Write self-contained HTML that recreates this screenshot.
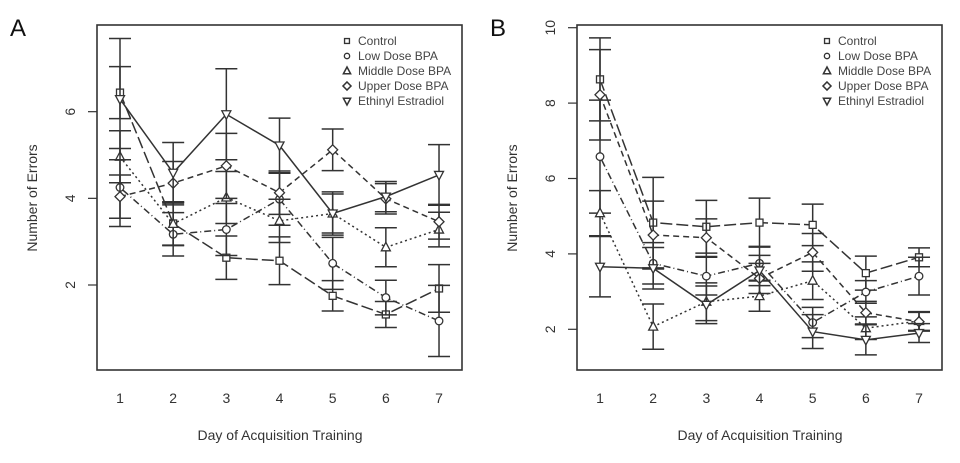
<!DOCTYPE html>
<html><head><meta charset="utf-8"><style>
body{margin:0;background:#fff;}
svg{display:block;font-family:"Liberation Sans",sans-serif;}
</style></head><body>
<svg id="c" width="960" height="463" viewBox="0 0 960 463" xmlns="http://www.w3.org/2000/svg"></svg>
<script>
const days = [1,2,3,4,5,6,7];
const seriesNames = ["Control","Low Dose BPA","Middle Dose BPA","Upper Dose BPA","Ethinyl Estradiol"];
const yTicksA = [2,4,6];
const yTicksB = [2,4,6,8,10];
// Panel A means
const aControl = [6.44,3.42,2.63,2.56,1.75,1.32,1.92];
const aLow = [4.25,3.17,3.28,3.98,2.5,1.71,1.17];
const aMiddle = [4.96,3.41,4.02,3.48,3.65,2.87,3.28];
const aUpper = [4.04,4.35,4.75,4.13,5.12,3.99,3.46];
const aEE = [6.29,4.59,5.94,5.22,3.65,4.04,4.54];
// Panel A error half-widths
const aControlErr = [0.6,0.5,0.5,0.55,0.35,0.3,0.55];
const aLowErr = [0.9,0.5,0.6,0.6,0.6,0.4,0.82];
const aMiddleErr = [0.6,0.5,0.6,0.5,0.5,0.45,0.4];
const aUpperErr = [0.5,0.5,0.75,0.5,0.48,0.35,0.4];
const aEEErr = [1.4,0.7,1.05,0.63,0.45,0.35,0.7];
// Panel B means
const bControl = [8.63,4.83,4.72,4.83,4.77,3.49,3.91];
const bLow = [6.58,3.75,3.41,3.75,2.18,2.99,3.41];
const bMiddle = [5.08,2.07,2.73,2.88,3.29,2.03,2.22];
const bUpper = [8.22,4.5,4.43,3.35,4.04,2.44,2.2];
const bEE = [3.66,3.62,2.65,3.56,1.94,1.72,1.9];
// Panel B error half-widths
const bControlErr = [1.1,1.2,0.7,0.65,0.55,0.45,0.25];
const bLowErr = [1.5,0.55,0.5,0.45,0.4,0.3,0.5];
const bMiddleErr = [0.6,0.6,0.5,0.4,0.5,0.3,0.25];
const bUpperErr = [1.2,0.9,0.5,0.4,0.5,0.3,0.25];
const bEEErr = [0.8,0.55,0.5,0.4,0.45,0.4,0.25];

const NS="http://www.w3.org/2000/svg";
const svg=document.getElementById('c');
const col="#333";
const dashes=["12,4","1,3,7,3","2,3","6,4",""];
const symbols=["square","circle","triangle","diamond","down"];
function mk(tag,attrs,parent){const e=document.createElementNS(NS,tag);for(const k in attrs)e.setAttribute(k,attrs[k]);(parent||svg).appendChild(e);return e;}

function marker(g,type,x,y){
  let e;
  if(type==="square") e=mk('rect',{x:x-3.5,y:y-3.5,width:7,height:7,fill:'#fff',stroke:col,'stroke-width':1.3},g);
  else if(type==="circle") e=mk('circle',{cx:x,cy:y,r:3.8,fill:'#fff',stroke:col,'stroke-width':1.3},g);
  else if(type==="triangle") e=mk('polygon',{points:`${x},${y-5} ${x-4.5},${y+3.5} ${x+4.5},${y+3.5}`,fill:'#fff',stroke:col,'stroke-width':1.3},g);
  else if(type==="diamond") e=mk('polygon',{points:`${x},${y-5} ${x+5},${y} ${x},${y+5} ${x-5},${y}`,fill:'#fff',stroke:col,'stroke-width':1.3},g);
  else e=mk('polygon',{points:`${x},${y+5} ${x-4.5},${y-3.5} ${x+4.5},${y-3.5}`,fill:'#fff',stroke:col,'stroke-width':1.3},g);
  return e;
}

function panel(ox,letter,yMin,yPerUnit,yBase,yTicks,means,errs,name){
  const g=mk('g',{});
  
  
  const xs=d=>ox+120+(d-1)*53.17;
  const ys=v=>yBase-(v-yMin)*yPerUnit;
  const t=mk('text',{x:ox+10,y:36,'font-size':24,fill:'#111'},g);t.textContent=letter;
  
  const box=mk('rect',{x:ox+97,y:25,width:365,height:345,fill:'none',stroke:col,'stroke-width':1.6},g);
  
  yTicks.forEach(v=>{
    const l=mk('line',{x1:ox+88,x2:ox+97,y1:ys(v),y2:ys(v),stroke:col,'stroke-width':1.2},g);
    
    const tx=mk('text',{x:ox+75,y:ys(v),'font-size':14,fill:'#333','text-anchor':'middle',transform:`rotate(-90 ${ox+75} ${ys(v)})`},g);
    tx.textContent=v;
    
  });
  days.forEach(d=>{
    const tx=mk('text',{x:xs(d),y:403,'font-size':14,fill:'#333','text-anchor':'middle'},g);
    tx.textContent=d;
    
  });
  const xt=mk('text',{x:ox+280,y:440,'font-size':14,fill:'#333','text-anchor':'middle'},g);
  xt.textContent="Day of Acquisition Training";
  
  const yt=mk('text',{x:ox+37,y:198,'font-size':14,fill:'#333','text-anchor':'middle',transform:`rotate(-90 ${ox+37} 198)`},g);
  yt.textContent="Number of Errors";
  
  means.forEach((arr,si)=>{
    const sg=mk('g',{},g);
    
    
    const pts=arr.map((v,i)=>xs(days[i])+','+ys(v)).join(' ');
    const pl=mk('polyline',{points:pts,fill:'none',stroke:col,'stroke-width':1.5,'stroke-dasharray':dashes[si]},sg);
    
    arr.forEach((v,i)=>{
      const x=xs(days[i]),e=errs[si][i];
      const eb=mk('path',{d:`M${x},${ys(v+e)}V${ys(v-e)}M${x-11},${ys(v+e)}H${x+11}M${x-11},${ys(v-e)}H${x+11}`,stroke:col,'stroke-width':1.5,fill:'none'},sg);
      
    });
    arr.forEach((v,i)=>{
      const m=marker(sg,symbols[si],xs(days[i]),ys(v));
      
    });
  });
  const lg=mk('g',{},g);
  
  seriesNames.forEach((n,i)=>{
    const y=41+i*15;
    const eg=mk('g',{},lg);
    
    const sc=[0.7,0.7,0.8,0.8,0.8][i];
    const m=marker(eg,symbols[i],ox+347,y);
    m.setAttribute('transform',`translate(${ox+347} ${y}) scale(${sc}) translate(${-(ox+347)} ${-y})`);
    m.setAttribute('stroke-width','1.9');
    const tx=mk('text',{x:ox+358,y:y+4,'font-size':12,fill:'#444'},eg);
    tx.textContent=n;
  });
}
panel(0,"A",2,43.33,285,yTicksA,[aControl,aLow,aMiddle,aUpper,aEE],[aControlErr,aLowErr,aMiddleErr,aUpperErr,aEEErr],"panel-a");
panel(480,"B",2,37.7,329.3,yTicksB,[bControl,bLow,bMiddle,bUpper,bEE],[bControlErr,bLowErr,bMiddleErr,bUpperErr,bEEErr],"panel-b");
</script>
</body></html>
